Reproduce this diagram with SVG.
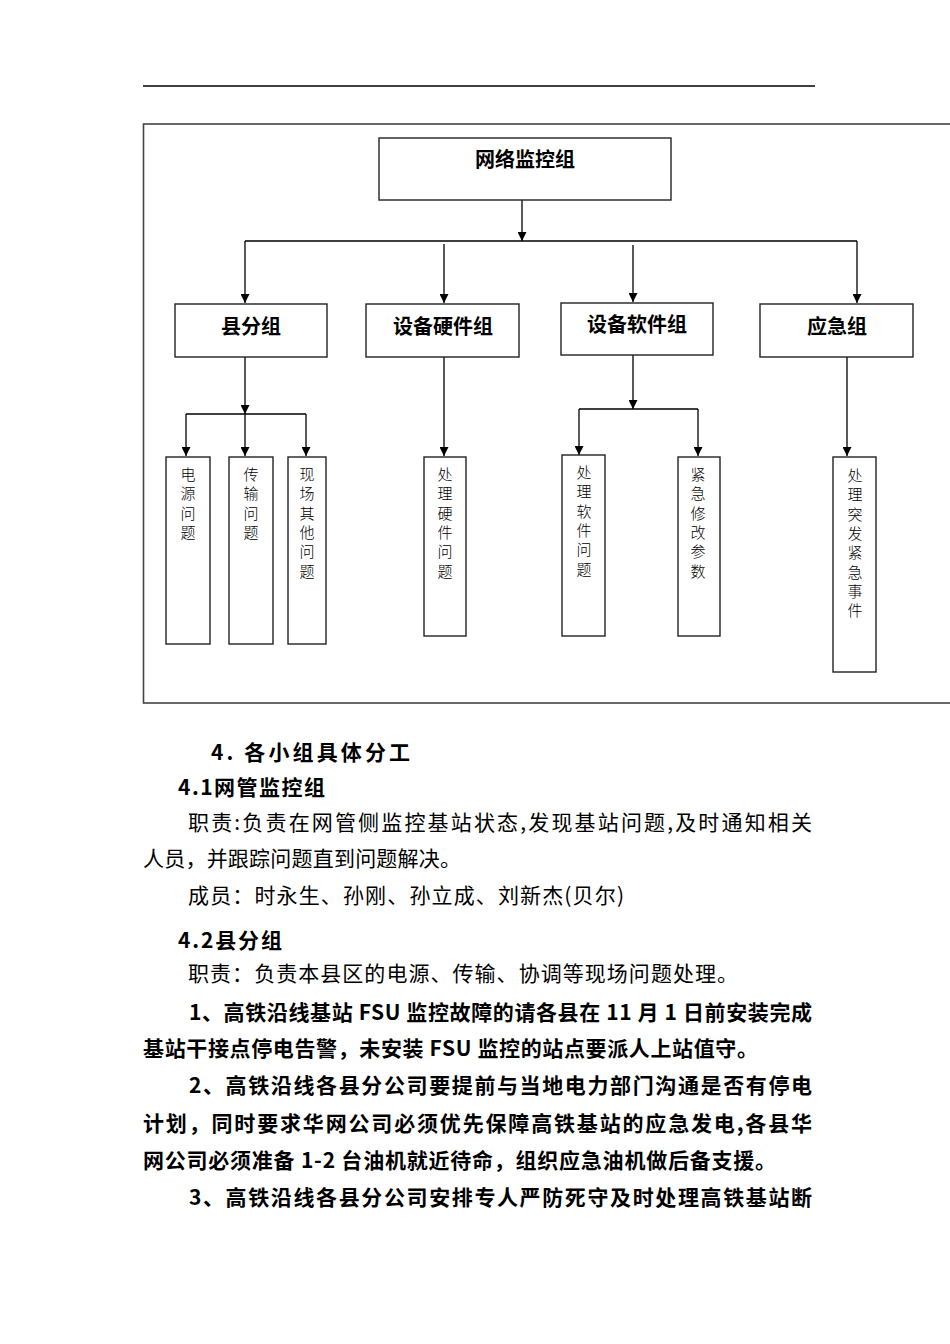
<svg xmlns="http://www.w3.org/2000/svg" width="950" height="1344" viewBox="0 0 950 1344">
<style>
.box{fill:#fff;stroke:#222;stroke-width:1.4}
.ln{stroke:#000;stroke-width:1.3;fill:none}
.arr{stroke:#000;stroke-width:1.3;fill:none;marker-end:url(#ah)}
.lbl{font-family:"Noto Sans CJK SC","Liberation Sans",sans-serif;font-size:20px;font-weight:bold;fill:#000;text-anchor:middle}
.vt{font-family:"Noto Sans CJK SC","Liberation Sans",sans-serif;font-size:15px;font-weight:300;fill:#000;text-anchor:middle}
.body{font-family:"Noto Sans CJK SC","Liberation Sans",sans-serif;font-size:21px;fill:#000}
.bold{font-weight:bold}
</style>
<defs>
<marker id="ah" viewBox="0 0 10 10" refX="10" refY="5" markerWidth="10" markerHeight="9" markerUnits="userSpaceOnUse" orient="auto">
<path d="M0,0 L10,5 L0,10 z" fill="#000"/>
</marker>
</defs>
<rect width="950" height="1344" fill="#fff"/>
<line x1="143" y1="86" x2="815" y2="86" stroke="#000" stroke-width="1.3"/>
<rect x="143.5" y="124" width="820" height="579" fill="none" stroke="#444" stroke-width="1.6"/>

<g id="connectors">
<line class="arr" x1="522" y1="200" x2="522" y2="241"/>
<line class="ln" x1="245" y1="241" x2="857" y2="241"/>
<line class="arr" x1="245" y1="241" x2="245" y2="303"/>
<line class="arr" x1="444" y1="244" x2="444" y2="303"/>
<line class="arr" x1="633" y1="245" x2="633" y2="302"/>
<line class="arr" x1="857" y1="241" x2="857" y2="303"/>

<line class="arr" x1="245" y1="357" x2="245" y2="414"/>
<line class="ln" x1="186" y1="414" x2="306" y2="414"/>
<line class="arr" x1="186" y1="414" x2="186" y2="456"/>
<line class="arr" x1="245" y1="414" x2="245" y2="456"/>
<line class="arr" x1="306" y1="414" x2="306" y2="456"/>

<line class="arr" x1="444" y1="357" x2="444" y2="456"/>

<line class="arr" x1="633" y1="355" x2="633" y2="409"/>
<line class="ln" x1="579" y1="409" x2="698" y2="409"/>
<line class="arr" x1="579" y1="409" x2="579" y2="455"/>
<line class="arr" x1="698" y1="409" x2="698" y2="456"/>

<line class="arr" x1="847" y1="357" x2="847" y2="456"/>
</g>

<g id="n-top">
<rect class="box" x="379" y="138" width="292" height="62"/>
<text class="lbl" x="525" y="167">网络监控组</text>
</g>
<g id="n-county">
<rect class="box" x="175" y="304" width="152" height="53"/>
<text class="lbl" x="251" y="334">县分组</text>
</g>
<g id="n-hw">
<rect class="box" x="366" y="304" width="153" height="53"/>
<text class="lbl" x="443" y="334">设备硬件组</text>
</g>
<g id="n-sw">
<rect class="box" x="561" y="303" width="152" height="52"/>
<text class="lbl" x="637" y="332">设备软件组</text>
</g>
<g id="n-em">
<rect class="box" x="760" y="304" width="153" height="53"/>
<text class="lbl" x="837" y="334">应急组</text>
</g>

<g id="n-power">
<rect class="box" x="166" y="457" width="44" height="187"/>
<text class="vt" x="188" y="480"><tspan x="188">电</tspan><tspan x="188" dy="19.3">源</tspan><tspan x="188" dy="19.3">问</tspan><tspan x="188" dy="19.3">题</tspan></text>
</g>
<g id="n-trans">
<rect class="box" x="229" y="457" width="44" height="187"/>
<text class="vt" x="251" y="480"><tspan x="251">传</tspan><tspan x="251" dy="19.3">输</tspan><tspan x="251" dy="19.3">问</tspan><tspan x="251" dy="19.3">题</tspan></text>
</g>
<g id="n-site">
<rect class="box" x="288" y="457" width="38" height="187"/>
<text class="vt" x="307" y="480"><tspan x="307">现</tspan><tspan x="307" dy="19.3">场</tspan><tspan x="307" dy="19.3">其</tspan><tspan x="307" dy="19.3">他</tspan><tspan x="307" dy="19.3">问</tspan><tspan x="307" dy="19.3">题</tspan></text>
</g>
<g id="n-hwp">
<rect class="box" x="424" y="457" width="42" height="179"/>
<text class="vt" x="445" y="480"><tspan x="445">处</tspan><tspan x="445" dy="19.3">理</tspan><tspan x="445" dy="19.3">硬</tspan><tspan x="445" dy="19.3">件</tspan><tspan x="445" dy="19.3">问</tspan><tspan x="445" dy="19.3">题</tspan></text>
</g>
<g id="n-swp">
<rect class="box" x="562" y="455" width="43" height="181"/>
<text class="vt" x="584" y="478"><tspan x="584">处</tspan><tspan x="584" dy="19.3">理</tspan><tspan x="584" dy="19.3">软</tspan><tspan x="584" dy="19.3">件</tspan><tspan x="584" dy="19.3">问</tspan><tspan x="584" dy="19.3">题</tspan></text>
</g>
<g id="n-param">
<rect class="box" x="678" y="457" width="42" height="179"/>
<text class="vt" x="698" y="480"><tspan x="698">紧</tspan><tspan x="698" dy="19.3">急</tspan><tspan x="698" dy="19.3">修</tspan><tspan x="698" dy="19.3">改</tspan><tspan x="698" dy="19.3">参</tspan><tspan x="698" dy="19.3">数</tspan></text>
</g>
<g id="n-event">
<rect class="box" x="833" y="457" width="43" height="215"/>
<text class="vt" x="855" y="481"><tspan x="855">处</tspan><tspan x="855" dy="19.3">理</tspan><tspan x="855" dy="19.3">突</tspan><tspan x="855" dy="19.3">发</tspan><tspan x="855" dy="19.3">紧</tspan><tspan x="855" dy="19.3">急</tspan><tspan x="855" dy="19.3">事</tspan><tspan x="855" dy="19.3">件</tspan></text>
</g>

<g id="body-text">
<text class="body bold" x="211" y="760" font-size="23" textLength="199" lengthAdjust="spacing">4. 各小组具体分工</text>
<text class="body bold" x="178" y="795" textLength="147" lengthAdjust="spacing">4.1网管监控组</text>
<text class="body" x="188" y="830" textLength="624" lengthAdjust="spacing">职责:负责在网管侧监控基站状态,发现基站问题,及时通知相关</text>
<text class="body" x="143" y="866" textLength="318" lengthAdjust="spacing">人员，并跟踪问题直到问题解决。</text>
<text class="body" x="188" y="903" textLength="436" lengthAdjust="spacing">成员：时永生、孙刚、孙立成、刘新杰(贝尔)</text>
<text class="body bold" x="178" y="948" textLength="104" lengthAdjust="spacing">4.2县分组</text>
<text class="body" x="188" y="981" textLength="550" lengthAdjust="spacing">职责：负责本县区的电源、传输、协调等现场问题处理。</text>
<text class="body bold" x="189" y="1020" textLength="623" lengthAdjust="spacing">1、高铁沿线基站 FSU 监控故障的请各县在 11 月 1 日前安装完成</text>
<text class="body bold" x="143" y="1056" textLength="615" lengthAdjust="spacing">基站干接点停电告警，未安装 FSU 监控的站点要派人上站值守。</text>
<text class="body bold" x="189" y="1093" textLength="623" lengthAdjust="spacing">2、高铁沿线各县分公司要提前与当地电力部门沟通是否有停电</text>
<text class="body bold" x="143" y="1131" textLength="669" lengthAdjust="spacing">计划，同时要求华网公司必须优先保障高铁基站的应急发电,各县华</text>
<text class="body bold" x="143" y="1168" textLength="633" lengthAdjust="spacing">网公司必须准备 1-2 台油机就近待命，组织应急油机做后备支援。</text>
<text class="body bold" x="189" y="1205" textLength="623" lengthAdjust="spacing">3、高铁沿线各县分公司安排专人严防死守及时处理高铁基站断</text>
</g>
</svg>
